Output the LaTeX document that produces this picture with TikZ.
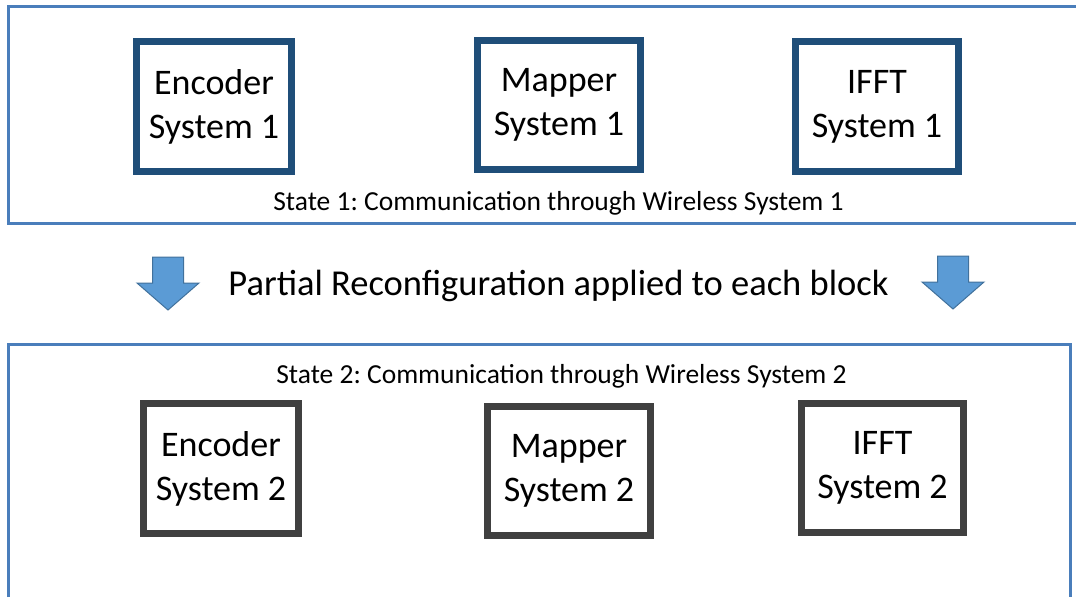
\documentclass[tikz,border=0pt]{standalone}
\usepackage{fontspec}
\setmainfont{Carlito}
\usepackage{xcolor}
\usepackage{tikz}
\usetikzlibrary{positioning, calc}
\frenchspacing
\definecolor{frameblue}{RGB}{74,126,187}
\definecolor{blkblue}{RGB}{31,78,121}
\definecolor{blkgray}{RGB}{64,64,64}
\definecolor{arrfill}{RGB}{91,155,213}
\definecolor{arrdraw}{RGB}{65,113,156}
\tikzset{
  frame/.style={draw=frameblue, line width=3pt},
  blockone/.style={rectangle, draw=blkblue, fill=white, line width=7pt,
    align=center, inner sep=0pt, font=\fontsize{36}{44}\selectfont},
  blocktwo/.style={rectangle, draw=blkgray, fill=white, line width=7pt,
    align=center, inner sep=0pt, font=\fontsize{36}{44}\selectfont},
  statelabel/.style={anchor=base, inner sep=0pt, font=\fontsize{27.5}{33}\selectfont},
  pics/downarrow/.style={code={
    \draw[fill=arrfill, draw=arrdraw, line width=1pt, line join=miter]
      (-15.5,0) -- (15.5,0) -- (15.5,26) -- (31,26) -- (0,53)
      -- (-31,26) -- (-15.5,26) -- cycle;
  }}
}
\begin{document}
\begin{tikzpicture}[x=1pt, y=-1pt]
  \useasboundingbox (0,0) rectangle (1076,597);

  % State 1 frame
  \draw[frame] (1076,6.5) -- (8.5,6.5) -- (8.5,223.5) -- (1076,223.5);
  \node[blockone, minimum width=155pt, minimum height=130pt] (enc1) at (214,106.5) {Encoder\\System 1};
  \node[blockone, minimum width=163pt, minimum height=129pt] (map1) at (559,105) {Mapper\\System 1};
  \node[blockone, minimum width=163pt, minimum height=130pt] (ifft1) at (877,106.5) {IFFT\\System 1};
  \node[statelabel] (state1) at (558.5,210) {State 1: Communication through Wireless System 1};

  % Reconfiguration step
  \pic (arrL) at (168,257) {downarrow};
  \pic (arrR) at (953,256) {downarrow};
  \node[anchor=base, inner sep=0pt, font=\fontsize{36.5}{44}\selectfont] (reconf) at (558.5,295)
    {Partial Reconfiguration applied to each block};

  % State 2 frame
  \draw[frame] (8.5,597) -- (8.5,344.5) -- (1070.5,344.5) -- (1070.5,597);
  \node[statelabel] (state2) at (561.5,383) {State 2: Communication through Wireless System 2};
  \node[blocktwo, minimum width=155pt, minimum height=130pt] (enc2) at (221,468.5) {Encoder\\System 2};
  \node[blocktwo, minimum width=163pt, minimum height=129pt] (map2) at (569,471) {Mapper\\System 2};
  \node[blocktwo, minimum width=162pt, minimum height=129pt] (ifft2) at (882.5,468) {IFFT\\System 2};
\end{tikzpicture}
\end{document}
